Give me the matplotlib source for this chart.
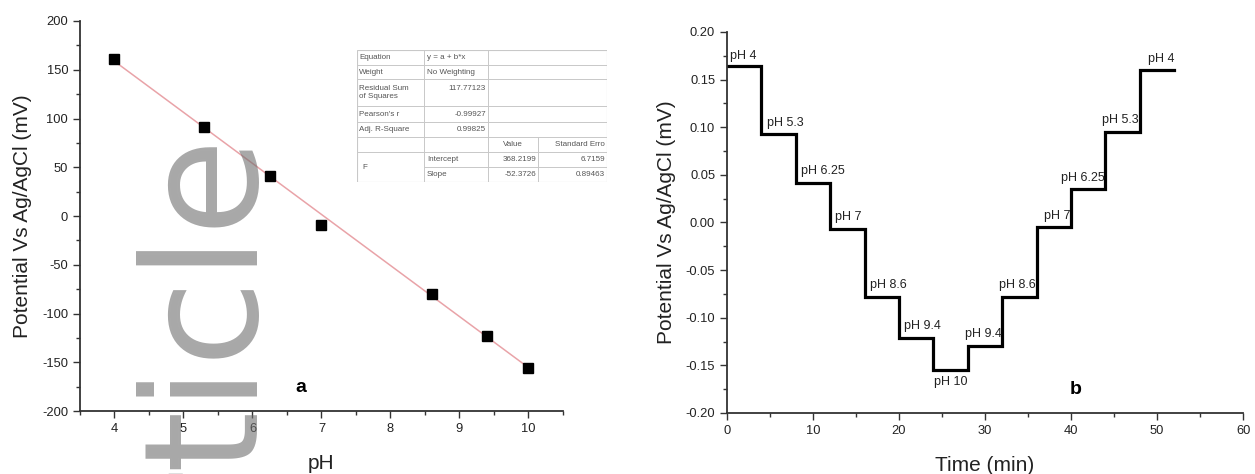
import numpy as np
import matplotlib.pyplot as plt
from matplotlib.ticker import MultipleLocator

plt.rcParams['font.family'] = ['Liberation Sans', 'DejaVu Sans']
plt.rcParams['axes.unicode_minus'] = False

# panel a: calibration
ph = [4, 5.3, 6.25, 7, 8.6, 9.4, 10]
potential = [161.1, 91.4, 40.8, -9.0, -80.1, -122.8, -155.6]
intercept = 368.2199
slope = -52.3726

# fit report table
table_names = ['Equation', 'Weight', 'Residual Sum\nof Squares', "Pearson's r", 'Adj. R-Square']
table_values = ['y = a + b*x', 'No Weighting', '117.77123', '-0.99927', '0.99825']
param_names = ['Intercept', 'Slope']
param_values = ['368.2199', '-52.3726']
param_errors = ['6.7159', '0.89463']

# panel b: step response
step_start = [0, 4, 8, 12, 16, 20, 24, 28, 32, 36, 40, 44, 48]
step_end = 52
step_level = [0.164, 0.0924, 0.0417, -0.0065, -0.0778, -0.1208, -0.1547,
              -0.1293, -0.0778, -0.0051, 0.0347, 0.0952, 0.1598]
step_labels = ['pH 4', 'pH 5.3', 'pH 6.25', 'pH 7', 'pH 8.6', 'pH 9.4', 'pH 10',
               'pH 9.4', 'pH 8.6', 'pH 7', 'pH 6.25', 'pH 5.3', 'pH 4']

fig = plt.figure(figsize=(12.55, 4.74), dpi=100)
axa = fig.add_axes([0.0637, 0.1329, 0.3849, 0.8228])
axb = fig.add_axes([0.5793, 0.1287, 0.4112, 0.8038])

txt = '#222222'
for ax in (axa, axb):
    for s in ('top', 'right'):
        ax.spines[s].set_visible(False)
    for s in ('left', 'bottom'):
        ax.spines[s].set_linewidth(1.3)
        ax.spines[s].set_color('#333333')
    ax.tick_params(which='both', direction='out', colors='#333333', labelcolor=txt,
                   labelsize=9.3, width=1.0)
    ax.tick_params(which='major', length=5)
    ax.tick_params(which='minor', length=3)

# ---- panel a
axa.plot(ph, potential, 's', color='black', markersize=6.5, zorder=3)
xfit = np.array([ph[0], ph[-1]])
axa.plot(xfit, intercept + slope * xfit, color='#e9a3a8', lw=1.1, zorder=2)
axa.set_xlim(3.5, 10.5)
axa.set_ylim(-200, 200)
axa.xaxis.set_major_locator(MultipleLocator(1))
axa.xaxis.set_minor_locator(MultipleLocator(0.5))
axa.yaxis.set_major_locator(MultipleLocator(50))
axa.yaxis.set_minor_locator(MultipleLocator(25))
axa.set_xticks([4, 5, 6, 7, 8, 9, 10])
axa.set_xlabel('pH', fontsize=15, color=txt, labelpad=14)
axa.set_ylabel('Potential Vs Ag/AgCl (mV)', fontsize=15, color=txt, labelpad=7)
axa.text(6.7, -176, 'a', fontsize=14, fontweight='bold', ha='center', va='center')

# fit table drawn in its own axes
tab = fig.add_axes([0.2845, 0.616, 0.1992, 0.2785])
tab.set_xlim(357, 607)
tab.set_ylim(182, 50)
tab.axis('off')
lc = '#c8c8c8'
tab.add_patch(plt.Rectangle((357, 50), 250, 132, fill=False, ec=lc, lw=0.8))
for yl in [65, 79, 106, 122, 137, 152]:
    tab.plot([357, 607], [yl, yl], color=lc, lw=0.7)
tab.plot([424, 607], [167, 167], color=lc, lw=0.7)
tab.plot([424, 424], [50, 182], color=lc, lw=0.7)
tab.plot([488, 488], [50, 182], color=lc, lw=0.7)
tab.plot([538, 538], [137, 182], color=lc, lw=0.7)
fs = 5.8
tc = '#555555'
row_y = [57.5, 72, 92.5, 114, 129.5]
for i in range(len(table_names)):
    tab.text(359, row_y[i], table_names[i], fontsize=fs, color=tc, va='center', linespacing=1.1)
    if i < 2:
        tab.text(427, row_y[i], table_values[i], fontsize=fs, color=tc, va='center')
    else:
        ry = row_y[i] - 4 if i == 2 else row_y[i]
        tab.text(486, ry, table_values[i], fontsize=fs, color=tc, va='center', ha='right')
tab.text(513, 144.5, 'Value', fontsize=fs, color=tc, va='center', ha='center')
tab.text(605, 144.5, 'Standard Erro', fontsize=fs, color=tc, va='center', ha='right')
tab.text(362, 167, 'F', fontsize=fs, color=tc, va='center')
for j, yv in enumerate([159.5, 174.5]):
    tab.text(427, yv, param_names[j], fontsize=fs, color=tc, va='center')
    tab.text(536, yv, param_values[j], fontsize=fs, color=tc, va='center', ha='right')
    tab.text(605, yv, param_errors[j], fontsize=fs, color=tc, va='center', ha='right')

# ---- panel b
tx = step_start + [step_end]
ty = step_level + [step_level[-1]]
axb.step(tx, ty, where='post', color='black', lw=2.3, solid_joinstyle='miter')
axb.set_xlim(0, 60)
axb.set_ylim(-0.2, 0.2)
axb.xaxis.set_major_locator(MultipleLocator(10))
axb.xaxis.set_minor_locator(MultipleLocator(5))
axb.yaxis.set_major_locator(MultipleLocator(0.05))
axb.yaxis.set_minor_locator(MultipleLocator(0.025))
axb.yaxis.set_major_formatter(plt.FormatStrFormatter('%.2f'))
axb.set_xlabel('Time (min)', fontsize=15, color=txt, labelpad=14)
axb.set_ylabel('Potential Vs Ag/AgCl (mV)', fontsize=15, color=txt, labelpad=7)

n = len(step_labels)
lfs = 9
for i in range(n):
    t0 = step_start[i]
    t1 = step_start[i + 1] if i + 1 < n else step_end
    lev = step_level[i]
    if i == 0:
        axb.text(t0 + 0.4, lev + 0.004, step_labels[i], fontsize=lfs, ha='left', va='bottom', color=txt)
    elif i < 6:
        axb.text(t0 + 0.6, lev + 0.006, step_labels[i], fontsize=lfs, ha='left', va='bottom', color=txt)
    elif i == 6:
        axb.text((t0 + t1) / 2, lev - 0.006, step_labels[i], fontsize=lfs, ha='center', va='top', color=txt)
    elif i < n - 1:
        axb.text(t1 - 0.1, lev + 0.006, step_labels[i], fontsize=lfs, ha='right', va='bottom', color=txt)
    else:
        axb.text(t0 + 0.9, lev + 0.006, step_labels[i], fontsize=lfs, ha='left', va='bottom', color=txt)
axb.text(40.5, -0.175, 'b', fontsize=14, fontweight='bold', ha='center', va='center')

# watermark
fig.text(257 / 1255, 1 - 136 / 474, 'Article', rotation=90, rotation_mode='anchor',
         ha='right', va='baseline', fontsize=114, color='#6e6e6e', alpha=0.6,
         family='DejaVu Sans', zorder=10)

fig.savefig('out.png', dpi=100)
